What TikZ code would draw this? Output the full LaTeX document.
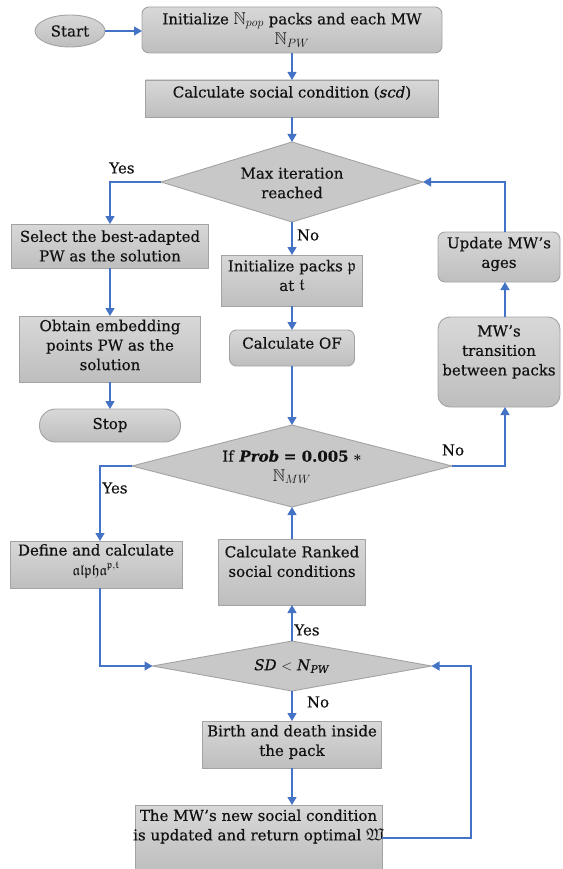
\documentclass[tikz,border=0pt]{standalone}
\usepackage{amsmath,amssymb}
\usepackage{fontspec}
\setmainfont{DejaVu Serif}[FakeBold=0.4]
\usetikzlibrary{arrows.meta,shapes.geometric}
\definecolor{conn}{HTML}{4472C4}
\definecolor{boxtop}{HTML}{D8D8D8}
\definecolor{boxbot}{HTML}{BEBEBE}
\definecolor{boxflat}{HTML}{C8C8C8}
\definecolor{boxline}{HTML}{A3A3A3}
\definecolor{inkc}{HTML}{111111}
\newcommand{\mbig}[1]{{\fontsize{17}{19.5}\selectfont #1}}
\begin{document}
\begin{tikzpicture}[x=1pt,y=-1pt,
  shp/.style={draw=boxline,line width=0.9pt,top color=boxtop,bottom color=boxbot,inner sep=0pt,outer sep=0pt},
  sq/.style={shp,rectangle},
  rsq/.style={shp,rectangle,rounded corners=7pt},
  dia/.style={draw=boxline,line width=0.9pt,fill=boxflat,diamond,inner sep=0pt,outer sep=0pt},
  txt/.style={font=\fontsize{15}{19.5}\selectfont,text=inkc,align=center,inner sep=0pt},
  lbl/.style={font=\fontsize{15}{19.5}\selectfont,text=inkc,inner sep=0pt},
  arr/.style={draw=conn,line width=1.3pt,-{Triangle[length=8pt,width=9pt]}}
]
\useasboundingbox (0,0) rectangle (562,869);
\clip (0,0) rectangle (562,869);

% shapes
\node[shp,ellipse,minimum width=70pt,minimum height=32pt] (start) at (70,31) {};
\node[rsq,minimum width=300pt,minimum height=46pt] (init) at (292,30) {};
\node[sq,minimum width=293pt,minimum height=37pt] (calc) at (292,98.5) {};
\node[dia,minimum width=262pt,minimum height=80pt] (maxit) at (292,182) {};
\node[sq,minimum width=197pt,minimum height=44pt] (select) at (110,246) {};
\node[sq,minimum width=181pt,minimum height=66pt] (obtain) at (110,349) {};
\node[shp,rectangle,rounded corners=16pt,minimum width=141pt,minimum height=33pt] (stop) at (110,425.5) {};
\node[sq,minimum width=141pt,minimum height=51pt] (initp) at (292,280.5) {};
\node[rsq,minimum width=125pt,minimum height=36pt] (calcof) at (292,348) {};
\node[rsq,minimum width=122pt,minimum height=50pt] (update) at (499,257) {};
\node[rsq,rounded corners=12pt,minimum width=122pt,minimum height=90pt] (trans) at (499,362) {};
\node[dia,minimum width=320pt,minimum height=82pt] (prob) at (292,466) {};
\node[sq,minimum width=172pt,minimum height=47pt] (define) at (96,564.5) {};
\node[sq,minimum width=147pt,minimum height=66pt] (ranked) at (292,572) {};
\node[dia,minimum width=279pt,minimum height=50pt] (sd) at (292,666) {};
\node[sq,minimum width=179pt,minimum height=47pt] (birth) at (292,744.5) {};
\node[sq,minimum width=247pt,minimum height=66pt] (mwnew) at (258.5,838) {};

% texts
\node[txt] (t-start) at (70,31) {Start};
\node[txt] (t-init) at (292,30) {Initialize \mbig{$\mathbb{N}_{pop}$} packs and each MW\\[1pt] \mbig{$\mathbb{N}_{PW}$}};
\node[txt] (t-calc) at (292,93) {Calculate social condition (\textit{scd})};
\node[txt] (t-maxit) at (292,183) {Max iteration\\reached};
\node[txt] (t-select) at (110,246) {Select the best-adapted\\PW as the solution};
\node[txt] (t-obtain) at (110,345) {Obtain embedding\\points PW as the\\solution};
\node[txt] (t-stop) at (110,425) {Stop};
\node[txt] (t-initp) at (292,275.5) {Initialize packs \mbig{$\mathfrak{p}$}\\at \mbig{$\mathfrak{t}$}};
\node[txt] (t-calcof) at (292,343) {Calculate OF};
\node[txt] (t-update) at (499,254) {Update MW's\\ages};
\node[txt] (t-trans) at (499,352) {MW's\\transition\\between packs};
\node[txt] (t-prob) at (292,467) {If \textbf{\textit{Prob}} \textbf{= 0.005} {\boldmath$\ast$}\\\mbig{$\mathbb{N}_{MW}$}};
\node[txt] (t-define) at (96,561) {Define and calculate\\$\mathfrak{alpha}^{\mathfrak{p},\mathfrak{t}}$};
\node[txt] (t-ranked) at (292,561.5) {Calculate Ranked\\social conditions};
\node[txt] (t-sd) at (292,666) {\textit{SD} $<$ \textit{N}\textsubscript{\textit{PW}}};
\node[txt] (t-birth) at (292,742) {Birth and death inside\\the pack};
\node[txt] (t-mwnew) at (258.5,826.5) {The MW's new social condition\\is updated and return optimal \mbig{$\mathfrak{W}$}};

% connectors
\draw[arr] (start.east) -- (start.east -| init.west);
\draw[arr] (init.south) -- (calc.north);
\draw[arr] (calc.south) -- (maxit.north);
\draw[arr] (maxit.west) -| (select.north);
\node[lbl] (l-yes1) at (122,168) {Yes};
\draw[arr] (select.south) -- (obtain.north);
\draw[arr] (obtain.south) -- (stop.north);
\draw[arr] (maxit.south) -- (initp.north);
\node[lbl] (l-no1) at (308,235) {No};
\draw[arr] (initp.south) -- (calcof.north);
\draw[arr] (calcof.south) -- (prob.north);
\draw[arr] (prob.west) -| ([xshift=4pt]define.north);
\node[lbl] (l-yes2) at (115,488) {Yes};
\draw[arr] (prob.east) -| ([xshift=6pt]trans.south);
\node[lbl] (l-no2) at (453,450) {No};
\draw[arr] ([xshift=6pt]trans.north) -- ([xshift=6pt]update.south);
\draw[arr] ([xshift=6pt]update.north) |- (maxit.east);
\draw[arr] (ranked.north) -- (prob.south);
\draw[arr] (sd.north) -- (ranked.south);
\node[lbl] (l-yes3) at (307,630) {Yes};
\draw[arr] ([xshift=4pt]define.south) |- (sd.west);
\draw[arr] (sd.south) -- (birth.north);
\node[lbl] (l-no3) at (318,702) {No};
\draw[arr] (birth.south) -- (birth.south |- mwnew.north);
\coordinate (rloop) at (471,838);
\draw[arr] (mwnew.east) -- (rloop) |- (sd.east);
\end{tikzpicture}
\end{document}
